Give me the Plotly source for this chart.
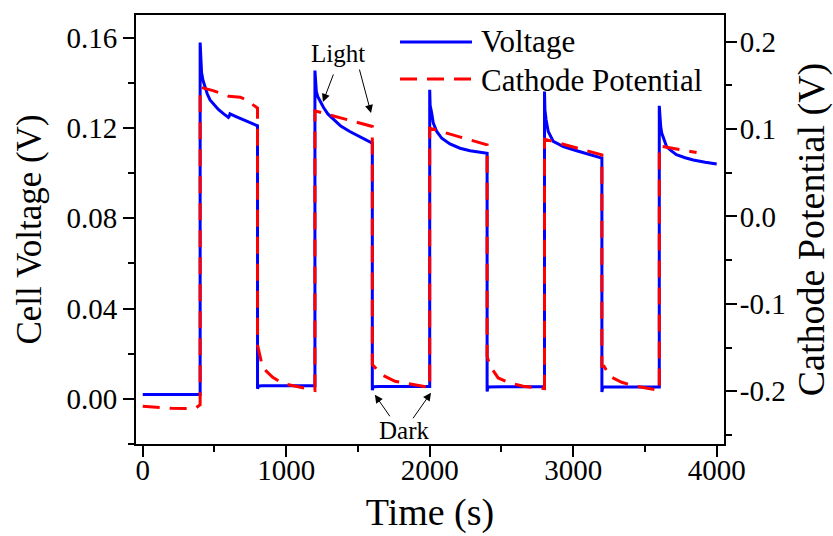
import plotly.graph_objects as go

# ---------------- data ----------------
time_v = [0, 100, 200, 300, 400,
          400, 403, 410, 420, 434, 450, 469, 500, 527, 560, 597, 602, 608, 650, 701, 750, 800,
          800, 806, 830, 900, 1000, 1100, 1200,
          1200, 1203, 1210, 1220, 1233, 1260, 1290, 1326, 1380, 1443, 1500, 1559, 1600,
          1600, 1606, 1650, 1800, 1900, 2000,
          2000, 2003, 2014, 2025, 2049, 2084, 2141, 2211, 2281, 2340, 2400,
          2400, 2406, 2500, 2600, 2700, 2800,
          2800, 2803, 2811, 2826, 2861, 2931, 3024, 3117, 3200,
          3200, 3206, 3300, 3400, 3500, 3600,
          3600, 3603, 3610, 3617, 3630, 3651, 3680, 3719, 3780, 3837, 3920, 4000]
voltage = [0.0019, 0.0019, 0.0019, 0.0019, 0.0019,
           0.1578, 0.1510, 0.1445, 0.1410, 0.1376, 0.1350, 0.1324, 0.1300, 0.1282, 0.1264, 0.1246, 0.1250, 0.1262, 0.1250, 0.1235, 0.1222, 0.1209,
           0.0045, 0.0056, 0.0058, 0.0058, 0.0058, 0.0058, 0.0058,
           0.1454, 0.1400, 0.1360, 0.1338, 0.1320, 0.1290, 0.1262, 0.1240, 0.1208, 0.1184, 0.1165, 0.1147, 0.1132,
           0.0038, 0.0054, 0.0055, 0.0055, 0.0055, 0.0055,
           0.1369, 0.1300, 0.1265, 0.1221, 0.1184, 0.1154, 0.1129, 0.1110, 0.1099, 0.1093, 0.1088,
           0.0033, 0.0053, 0.0054, 0.0054, 0.0054, 0.0054,
           0.1361, 0.1280, 0.1236, 0.1184, 0.1140, 0.1117, 0.1099, 0.1081, 0.1066,
           0.0030, 0.0052, 0.0053, 0.0053, 0.0053, 0.0053,
           0.1298, 0.1240, 0.1205, 0.1177, 0.1150, 0.1117, 0.1100, 0.1081, 0.1068, 0.1058, 0.1048, 0.1040]

time_c = [0, 100, 200, 300, 370, 400,
          400, 490, 600, 680, 720, 800,
          800, 836, 906, 976, 1080, 1164, 1200,
          1200, 1600,
          1600, 1631, 1666, 1758, 1840, 1909, 1990, 2000,
          2000, 2400,
          2400, 2420, 2477, 2559, 2652, 2734, 2800,
          2800, 3200,
          3200, 3215, 3256, 3338, 3419, 3512, 3593, 3600,
          3600, 3860]
cathode = [-0.2171, -0.2185, -0.2195, -0.2198, -0.2190, -0.2155,
           0.1480, 0.1440, 0.1375, 0.1365, 0.1334, 0.1240,
           -0.1470, -0.1730, -0.1840, -0.1910, -0.1950, -0.1980, -0.1990,
           0.1208, 0.1030,
           -0.1695, -0.1750, -0.1810, -0.1886, -0.1910, -0.1924, -0.1950, -0.1955,
           0.1010, 0.0820,
           -0.1600, -0.1710, -0.1847, -0.1904, -0.1943, -0.1961, -0.1970,
           0.0885, 0.0705,
           -0.1714, -0.1714, -0.1829, -0.1897, -0.1935, -0.1960, -0.1989, -0.1990,
           0.0808, 0.0731]

x_ticks = [0, 1000, 2000, 3000, 4000]
x_minor = [500, 1500, 2500, 3500]
yl_ticks = [0.0, 0.04, 0.08, 0.12, 0.16]
yl_text = ["0.00", "0.04", "0.08", "0.12", "0.16"]
yl_minor = [-0.02, 0.02, 0.06, 0.10, 0.14]
yr_ticks = [-0.2, -0.1, 0.0, 0.1, 0.2]
yr_text = ["-0.2", "-0.1", "0.0", "0.1", "0.2"]
yr_minor = [-0.25, -0.15, -0.05, 0.05, 0.15]

FONT = "Liberation Serif"
BLUE = "#0000FF"
RED = "#FF0000"
DASH = "17px,10px"

fig = go.Figure()
fig.add_trace(go.Scatter(x=time_v, y=voltage, mode="lines", name="Voltage",
                         line=dict(color=BLUE, width=3), showlegend=False))
fig.add_trace(go.Scatter(x=time_c, y=cathode, mode="lines", name="Cathode Potential",
                         line=dict(color=RED, width=3, dash=DASH), yaxis="y2",
                         showlegend=False))

axis_common = dict(showline=True, linewidth=2, linecolor="black", ticks="outside",
                   ticklen=11, tickwidth=2, tickcolor="black", showgrid=False,
                   zeroline=False, automargin=False, tickfont=dict(size=29, family=FONT))

fig.update_layout(
    template="none",
    width=833, height=536,
    margin=dict(l=136, r=109, t=15, b=92),
    paper_bgcolor="white", plot_bgcolor="white",
    font=dict(family=FONT, color="black"),
    xaxis=dict(range=[-47, 4051], tickmode="array", tickvals=x_ticks,
               ticktext=[str(v) for v in x_ticks], mirror=True, ticklabelstandoff=-12,
               minor=dict(tickmode="array", tickvals=x_minor, ticks="outside",
                          ticklen=6, tickwidth=2, tickcolor="black", showgrid=False),
               title=dict(text="Time (s)", font=dict(size=38, family=FONT), standoff=14),
               **axis_common),
    yaxis=dict(range=[-0.02, 0.17], tickmode="array", tickvals=yl_ticks, ticktext=yl_text,
               minor=dict(tickmode="array", tickvals=yl_minor, ticks="outside",
                          ticklen=6, tickwidth=2, tickcolor="black", showgrid=False),
               title=dict(text="Cell Voltage (V)", font=dict(size=35, family=FONT), standoff=14),
               **axis_common),
    yaxis2=dict(range=[-0.2603, 0.2305], overlaying="y", side="right", anchor="x",
                tickmode="array", tickvals=yr_ticks, ticktext=yr_text, ticklabelstandoff=-3,
                minor=dict(tickmode="array", tickvals=yr_minor, ticks="outside",
                           ticklen=6, tickwidth=2, tickcolor="black", showgrid=False),
                title=dict(text="Cathode Potential (V)", font=dict(size=38, family=FONT), standoff=14),
                **axis_common),
)

# ---- legend drawn by hand (long line samples like the reference) ----
fig.add_shape(type="line", xref="paper", yref="paper", x0=0.449, x1=0.5714, y0=0.937, y1=0.937,
              line=dict(color=BLUE, width=3))
fig.add_shape(type="line", xref="paper", yref="paper", x0=0.449, x1=0.5714, y0=0.8508, y1=0.8508,
              line=dict(color=RED, width=3, dash=DASH))
fig.add_annotation(text="Voltage", xref="paper", yref="paper", x=0.5833, y=0.9371,
                   xanchor="left", yanchor="middle", showarrow=False,
                   font=dict(size=31, family=FONT, color="black"))
fig.add_annotation(text="Cathode Potential", xref="paper", yref="paper", x=0.5833, y=0.8462,
                   xanchor="left", yanchor="middle", showarrow=False,
                   font=dict(size=31, family=FONT, color="black"))

# ---- Light / Dark labels with arrows ----
fig.add_annotation(text="Light", xref="paper", yref="paper", x=0.3435, y=0.9091,
                   xanchor="center", yanchor="middle", showarrow=False,
                   font=dict(size=25, family=FONT, color="black"))
fig.add_annotation(text="Dark", xref="paper", yref="paper", x=0.4558, y=0.0326,
                   xanchor="center", yanchor="middle", showarrow=False,
                   font=dict(size=25, family=FONT, color="black"))
arrow_style = dict(text="", showarrow=True, arrowhead=2, arrowsize=1.6, arrowwidth=1,
                   arrowcolor="black", standoff=0, xref="x", yref="y")
fig.add_annotation(x=1256, y=0.1315, ax=11, ay=-29, **arrow_style)
fig.add_annotation(x=1591, y=0.1266, ax=-12, ay=-45, **arrow_style)
fig.add_annotation(x=1618, y=0.0018, ax=16, ay=23, **arrow_style)
fig.add_annotation(x=2009, y=0.0027, ax=-19, ay=27, **arrow_style)

fig.write_html("out.html")
